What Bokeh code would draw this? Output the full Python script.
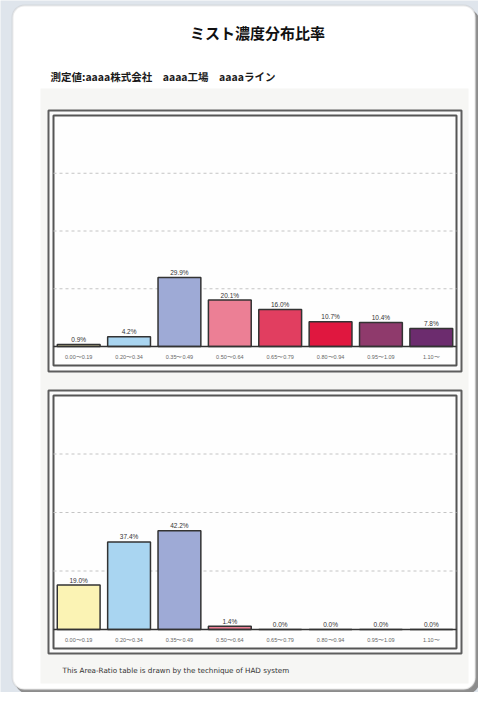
from bokeh.plotting import figure
from bokeh.models import Range1d, BoxAnnotation
from bokeh.core.properties import value
from bokeh.embed import file_html
from bokeh.resources import INLINE

# ---------------- data ----------------
categories = ["0.00〜0.19", "0.20〜0.34", "0.35〜0.49", "0.50〜0.64",
              "0.65〜0.79", "0.80〜0.94", "0.95〜1.09", "1.10〜"]
chart1_values = [0.9, 4.2, 29.9, 20.1, 16.0, 10.7, 10.4, 7.8]
chart2_values = [19.0, 37.4, 42.2, 1.4, 0.0, 0.0, 0.0, 0.0]
bar_colors = ["#fbf3b4", "#a9d5f1", "#9eaad6", "#ec7f95",
              "#e13e60", "#e0173f", "#8f3a6c", "#6c2c6e"]
grid_values = [25, 50, 75]
y_max = 100
title_text = "ミスト濃度分布比率"
subtitle_text = "測定値:aaaa株式会社　aaaa工場　aaaaライン"
footer_text = "This Area-Ratio table is drawn by the technique of HAD system"

# ---------------- page geometry (screenshot pixel coords) ----------------
W, H = 478, 692
PX0, PX1 = 0, W
PY0, PY1 = 0, H
CJK = value("Noto Sans CJK JP")

p = figure(width=W, height=H, x_range=Range1d(PX0, PX1), y_range=Range1d(PY1, PY0),
           output_backend="svg", toolbar_location=None, min_border=0,
           x_axis_type=None, y_axis_type=None)
p.outline_line_color = None
p.background_fill_color = "#dfe5ec"
p.border_fill_color = "#dfe5ec"
p.grid.visible = False

# card with shadow
p.add_layout(BoxAnnotation(left=15, right=479, top=9, bottom=693, border_radius=12,
                           fill_color="#8c8c8c", fill_alpha=1, line_color=None, level="image"))
p.add_layout(BoxAnnotation(left=12, right=475, top=5, bottom=689, border_radius=12,
                           fill_color="#ffffff", fill_alpha=1, line_color="#bdbdbd",
                           line_width=2, level="image"))

# light panel
p.quad(left=[40], right=[468], top=[88], bottom=[683], fill_color="#f6f6f4", line_color=None)

# texts
p.text(x=[257], y=[32], text=[title_text], text_align="center", text_baseline="middle",
       text_font=CJK, text_font_size="15px", text_font_style="bold", text_color="#111111")
p.text(x=[50], y=[76], text=[subtitle_text], text_align="left", text_baseline="middle",
       text_font=CJK, text_font_size="10.5px", text_font_style="bold", text_color="#1a1a1a")
p.text(x=[62], y=[670], text=[footer_text], text_align="left", text_baseline="middle",
       text_font=value("DejaVu Sans"), text_font_size="7.2px", text_color="#333333")

# horizontal category scale shared by both charts
IX0, IX1 = 53, 456
n = len(categories)
unit_x = (IX1 - IX0) / n
p.extra_x_ranges = {"cx": Range1d(-(IX0 - PX0) / unit_x, n + (PX1 - IX1) / unit_x)}
xs = [i + 0.5 for i in range(n)]


def draw_chart(vals, name, outer, inner, base_y):
    ol, orr, ot, ob = outer
    il, ir, it, ib = inner
    p.quad(left=[ol], right=[orr], top=[ot], bottom=[ob], fill_color="#fbfbfb",
           line_color="#5e5e5e", line_width=2)
    p.quad(left=[il], right=[ir], top=[it], bottom=[ib], fill_color="#fefefe",
           line_color="#555555", line_width=2)
    unit_y = (base_y - it) / y_max
    p.extra_y_ranges[name] = Range1d(-(PY1 - base_y) / unit_y, (base_y - PY0) / unit_y)
    p.segment(x0=[0] * len(grid_values), x1=[n] * len(grid_values),
              y0=grid_values, y1=grid_values, line_color="#c4c4c4", line_width=1,
              line_dash="3 3", x_range_name="cx", y_range_name=name)
    p.vbar(x=xs, top=vals, bottom=0, width=0.85, fill_color=bar_colors,
           line_color="#333333", line_width=1.5, x_range_name="cx", y_range_name=name)
    p.segment(x0=[0], x1=[n], y0=[0], y1=[0], line_color="#333333", line_width=1.5,
              x_range_name="cx", y_range_name=name)
    p.text(x=xs, y=vals, text=[f"{v:.1f}%" for v in vals], text_align="center",
           text_baseline="bottom", y_offset=-1.5, text_font=value("Liberation Sans"),
           text_font_size="6.5px", text_color="#333333",
           x_range_name="cx", y_range_name=name)
    p.text(x=xs, y=[0] * n, text=categories, text_align="center", text_baseline="middle",
           y_offset=10, text_font=value("Liberation Sans"), text_font_size="5.5px",
           text_color="#666666", x_range_name="cx", y_range_name=name)


draw_chart(chart1_values, "y1", (48, 461, 110, 371), (53, 456, 115, 365), 346)
draw_chart(chart2_values, "y2", (48, 461, 390, 653), (53, 456, 395, 648), 629)

open("out.html", "w").write(file_html(p, INLINE))
